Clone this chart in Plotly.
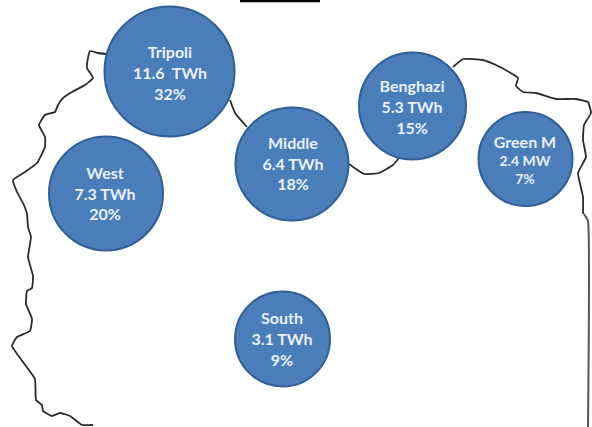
import plotly.graph_objects as go

# Regional electricity demand shown as bubbles over a national outline.
regions = ["Tripoli", "West", "Middle", "Benghazi", "Green M", "South"]
energy = ["11.6  TWh", "7.3 TWh", "6.4 TWh", "5.3 TWh", "2.4 MW", "3.1 TWh"]
shares = ["32%", "20%", "18%", "15%", "7%", "9%"]
bubble_x = [169.5, 106, 292, 412.5, 525.5, 282.5]
bubble_y = [71.5, 193.5, 164, 106, 159, 339]
bubble_d = [130, 114, 113, 107, 94, 95]
label_x = [170, 105, 293, 412, 525, 282]
name_y = [54, 175, 145, 88, 144, 320]
energy_y = [75, 196, 166, 109, 162, 341]
share_y = [96, 216, 186, 130, 180, 362]
name_size = [16, 16, 16, 16, 16, 16]
detail_size = [16, 16, 16, 16, 14, 16]

# Border segments, in canvas units of the schematic map.
west_x = [106, 98, 90, 88, 87, 93, 85, 72, 63, 58, 55, 45, 39, 45, 45, 37, 25, 13, 17, 23, 27,
          28, 31, 28, 33, 32, 27, 26, 32, 30, 17, 12, 23, 35, 36, 42, 43, 52, 60, 70, 82, 93]
west_y = [54, 53, 51, 58, 68, 78, 85, 92, 98, 105, 112, 115, 125, 137, 147, 163, 172, 180, 192,
          203, 214, 227, 237, 257, 276, 288, 291, 304, 319, 331, 337, 346, 362, 379, 400, 405,
          411, 416, 413, 416, 425, 425]
north_x = [230, 235, 247]
north_y = [100, 113, 127]
gulf_x = [349, 364, 379, 393, 399]
gulf_y = [164, 174, 173, 165, 158]
east_x = [453, 463, 483, 496, 509, 518, 516, 523, 536, 556, 576, 588, 591, 584, 583, 586, 578, 583, 583]
east_y = [67, 59, 60, 65, 72, 78, 86, 92, 93, 99, 99, 102, 113, 125, 140, 157, 173, 197, 214]
right_x = [584, 588, 588]
right_y = [214, 221, 427]
rule_x = [240, 320]
rule_y = [1, 1]

TEXT_COLOR = "#E9F0F8"

fig = go.Figure()

for xs, ys, color, width in [
    (west_x, west_y, "#2b2b2b", 1.8),
    (north_x, north_y, "#2b2b2b", 1.8),
    (gulf_x, gulf_y, "#2b2b2b", 1.8),
    (east_x, east_y, "#2b2b2b", 1.8),
    (right_x, right_y, "#555555", 2),
    (rule_x, rule_y, "#000000", 2.5),
]:
    fig.add_trace(go.Scatter(x=xs, y=ys, mode="lines", hoverinfo="skip",
                             line=dict(color=color, width=width, shape="spline", smoothing=0.35)))

fig.add_trace(go.Scatter(
    x=bubble_x, y=bubble_y, mode="markers", hoverinfo="skip",
    marker=dict(size=bubble_d, color="#4A7EBB", opacity=1, line=dict(color="#2F5F96", width=2)),
))

# Each bubble carries three stacked labels: region, energy, share.
for ys, texts, sizes in [
    (name_y, regions, name_size),
    (energy_y, energy, detail_size),
    (share_y, shares, detail_size),
]:
    fig.add_trace(go.Scatter(
        x=label_x, y=ys, mode="text", hoverinfo="skip", text=texts,
        textposition="middle center",
        textfont=dict(family="Lato", size=sizes, color=TEXT_COLOR, weight="bold"),
    ))

fig.update_layout(
    width=592, height=427, margin=dict(l=0, r=0, t=0, b=0),
    paper_bgcolor="white", plot_bgcolor="white", showlegend=False,
    xaxis=dict(range=[0, 592], visible=False, fixedrange=True),
    yaxis=dict(range=[427, 0], visible=False, fixedrange=True),
)
fig.write_html("out.html", config={"displayModeBar": False})
